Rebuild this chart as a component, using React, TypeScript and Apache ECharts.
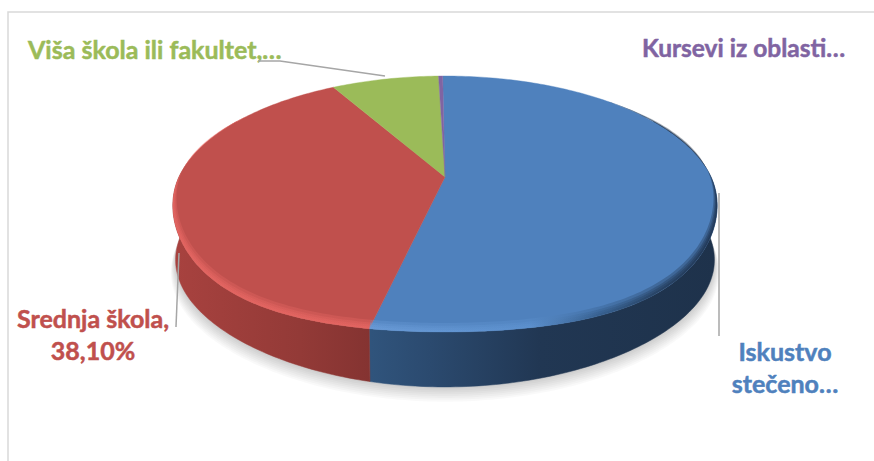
import React, { useEffect, useRef } from "react";
import * as echarts from "echarts";

// Share of respondents per source of knowledge, in percent.
const categories = ["Iskustvo stečeno…", "Srednja škola", "Viša škola ili fakultet", "Kursevi iz oblasti"];
const shareValues = [53.8, 38.1, 7.8, 0.3];
const topColors = ["#4f81bd", "#c0504d", "#9bbb59", "#8064a2"];
const labelFont = "Lato, Carlito, 'Open Sans', sans-serif";

const WIDTH = 874;
const HEIGHT = 461;

// Tilted disc: apex of the slices, horizontal and vertical scale, perspective strength.
const APEX_X = 445;
const APEX_Y = 177;
const SCALE_X = 266;
const SCALE_Y = 122.3;
const PERSPECTIVE = 0.211;
const START_DEG = -0.6;
// The front corners of the rim sag a little below a true ellipse.
const RIM_SAG = 9;
// Underside of the disc relative to the top face.
const FLOOR_SCALE = 0.99;
const FLOOR_DROP = 56.5;

const rad = (d: number) => (d * Math.PI) / 180;

function sagAt(deg: number) {
  const d = ((deg % 360) + 360) % 360;
  return d > 90 && d < 270 ? Math.sin(rad(2 * (d - 90))) ** 2 : 0;
}

function project(deg: number, r = 1): [number, number] {
  const u = r * Math.sin(rad(deg));
  const v = -r * Math.cos(rad(deg));
  const w = 1 - PERSPECTIVE * v;
  return [APEX_X + (SCALE_X * u) / w, APEX_Y + (SCALE_Y * v) / w + RIM_SAG * sagAt(deg) * r];
}

function projectFloor(deg: number, grow = 0, drop = 0): [number, number] {
  const [x, y] = project(deg);
  const s = FLOOR_SCALE + grow;
  return [
    APEX_X + (x - APEX_X) * s,
    APEX_Y + (y - APEX_Y) * s + FLOOR_DROP + drop - 1.2 * RIM_SAG * sagAt(deg),
  ];
}

function sweep(a: number, b: number, fn: (d: number) => [number, number]) {
  const n = Math.max(2, Math.ceil(Math.abs(b - a)));
  const pts: [number, number][] = [];
  for (let i = 0; i <= n; i++) pts.push(fn(a + ((b - a) * i) / n));
  return pts;
}

function sliceRange(api: any): [number, number] {
  const before = api.value(1);
  const share = api.value(0);
  const a = START_DEG + before * 3.6;
  return [a, a + share * 3.6];
}

const sliceRows = shareValues.map((v, i) => [
  v,
  shareValues.slice(0, i).reduce((s, x) => s + x, 0),
]);

const wallFill = (stops: [number, string][]) =>
  new echarts.graphic.LinearGradient(
    173, 0, 717, 0,
    stops.map(([o, c]) => ({ offset: (o - 173) / 544, color: c })),
    true
  );

const wallFills = [
  wallFill([[371, "#30547c"], [430, "#2b4a6f"], [540, "#213753"], [717, "#1e324b"]]),
  wallFill([[173, "#a8423f"], [300, "#933a37"], [372, "#843331"]]),
];

const rimFills = [
  wallFill([[371, "#6fa0dc"], [530, "#5f94d2"], [600, "#2f5580"], [660, "#1b2f48"], [717, "#14233a"]]),
  wallFill([[173, "#ec6a66"], [372, "#ec6a66"]]),
];

const rimDepth = (deg: number) => {
  const d = ((deg % 360) + 360) % 360;
  if (d < 45 || d > 305) return 0;
  if (d < 85) return (d - 45) / 40;
  if (d > 265) return (305 - d) / 40;
  return 1;
};

// Bevel bands: radial inset and upward shift, from the narrowest to the widest.
const RIM_INSETS = [0.003, 0.006, 0.009, 0.013];
const RIM_LIFTS = [1.5, 3, 4.5, 6.5];

// Layers of the soft shadow below the disc.
const SHADOW_LAYERS = [1, 2, 3, 4, 5, 6, 7, 8];

function App() {
  const ref = useRef<HTMLDivElement>(null);

  useEffect(() => {
    document.body.style.margin = "0";
    const chart = echarts.init(ref.current!, undefined, { renderer: "svg" });

    const redLabel = `${categories[1]},\n${shareValues[1].toFixed(2).replace(".", ",")}%`;
    const text = (x: number, y: number, t: string, fill: string, align = "left", size = 25) => ({
      type: "text",
      x,
      y,
      style: {
        text: t,
        fill,
        align,
        verticalAlign: "top",
        font: `bold ${size}px ${labelFont}`,
        lineHeight: 32,
        stroke: fill,
        lineWidth: 0.5,
      },
    });
    const leader = (points: number[][]) => ({
      type: "polyline",
      shape: { points },
      style: { stroke: "#a6a6a6", lineWidth: 1.5, fill: "none" },
      z: 5,
    });

    chart.setOption({
      animation: false,
      backgroundColor: "#ffffff",
      graphic: [
        {
          type: "rect",
          shape: { x: 8, y: 12, width: 900, height: 500 },
          style: { fill: "none", stroke: "#d9d9d9", lineWidth: 1.5 },
          z: -1,
        },
        leader([[258, 61], [280, 61], [385, 76]]),
        leader([[176, 327], [179, 253]]),
        leader([[719, 193], [719, 336]]),
        text(28, 33, `${categories[2]},…`, topColors[2]),
        text(642, 31, `${categories[3]}…`, topColors[3], "left", 24.5),
        text(93, 302, redLabel, topColors[1], "center"),
        text(785, 335, "Iskustvo\nstečeno…", topColors[0], "center"),
      ],
      series: [
        // Soft shadow under the disc, stacked from faint translucent layers.
        {
          type: "custom",
          coordinateSystem: "none",
          silent: true,
          z: 1,
          data: [[100, 0]],
          renderItem: (_p: any, api: any) => ({
            type: "group",
            children: SHADOW_LAYERS.map((k) => ({
              type: "polygon",
              shape: {
                points: sweep(0, api.value(0) * 3.6, (d) => projectFloor(d, 0.0022 * k, 1.5 * k)),
              },
              style: { fill: "#000000", opacity: 0.022 },
            })),
          }),
        },
        // Side walls of the slices that face the front.
        {
          type: "custom",
          coordinateSystem: "none",
          silent: true,
          z: 2,
          data: sliceRows.slice(0, 2),
          renderItem: (p: any, api: any) => {
            const [a, b] = sliceRange(api);
            const lo = Math.max(a, 60);
            const hi = Math.min(b, 300);
            const top = sweep(lo, hi, (d) => project(d));
            const floor = sweep(hi, lo, (d) => projectFloor(d));
            return {
              type: "polygon",
              shape: { points: [...top, ...floor] },
              style: { fill: wallFills[p.dataIndex], stroke: wallFills[p.dataIndex], lineWidth: 0.5 },
            };
          },
        },
        // Top faces.
        {
          type: "custom",
          coordinateSystem: "none",
          name: "Udeo",
          z: 3,
          data: sliceRows,
          renderItem: (p: any, api: any) => {
            const [a, b] = sliceRange(api);
            return {
              type: "polygon",
              shape: { points: [[APEX_X, APEX_Y], ...sweep(a, b, (d) => project(d))] },
              style: { fill: topColors[p.dataIndex], stroke: topColors[p.dataIndex], lineWidth: 0.4 },
            };
          },
        },
        // Bevel along the front edge of the top face, built from stacked translucent bands.
        {
          type: "custom",
          coordinateSystem: "none",
          silent: true,
          z: 4,
          data: sliceRows.slice(0, 2),
          renderItem: (p: any, api: any) => {
            const [a, b] = sliceRange(api);
            const lo = Math.max(a, 45);
            const hi = Math.min(b, 305);
            const outer = sweep(lo, hi, (d) => project(d));
            return {
              type: "group",
              children: RIM_INSETS.map((inset, i) => ({
                type: "polygon",
                shape: {
                  points: [
                    ...outer,
                    ...sweep(hi, lo, (d) => {
                      const depth = rimDepth(d);
                      const [x, y] = project(d, 1 - inset * depth);
                      return [x, y - RIM_LIFTS[i] * depth] as [number, number];
                    }),
                  ],
                },
                style: { fill: rimFills[p.dataIndex], opacity: 0.3 },
              })),
            };
          },
        },
      ],
    });

    return () => chart.dispose();
  }, []);

  return <div ref={ref} style={{ width: WIDTH, height: HEIGHT }} />;
}

export default App;
